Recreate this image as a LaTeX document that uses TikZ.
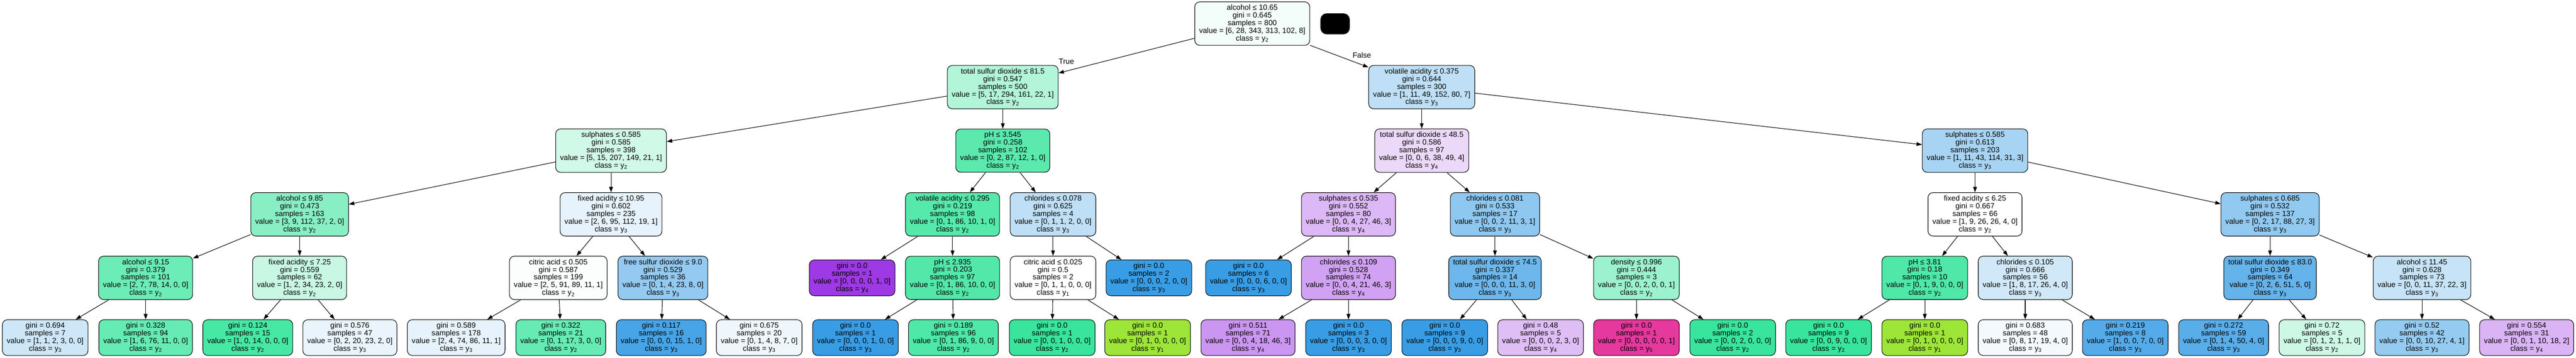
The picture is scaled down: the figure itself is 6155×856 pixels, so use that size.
\documentclass[tikz,border=0pt]{standalone}
\usepackage{fontspec}
\setmainfont{Liberation Sans}
\usepackage{tikz}
\usetikzlibrary{arrows.meta}

\definecolor{cy1}{RGB}{157,229,57}
\definecolor{cy2}{RGB}{57,229,157}
\definecolor{cy3}{RGB}{57,157,229}
\definecolor{cy4}{RGB}{157,57,229}
\definecolor{cy5}{RGB}{229,57,157}
\newcommand{\cy}[1]{class = y\textsubscript{#1}}

\begin{document}
\begin{tikzpicture}[x=1pt,y=-1pt,
	box/.style={shape=rectangle,draw=black,line width=1.3pt,rounded corners=12pt,align=center,
		font=\fontsize{18pt}{18.3pt}\selectfont,inner xsep=10.5pt,inner ysep=7pt},
	lbl/.style={font=\fontsize{18pt}{18.3pt}\selectfont,inner sep=0pt},
	>={Triangle[length=13pt,width=9pt]},
	every edge/.style={draw,line width=1.3pt}]
			\useasboundingbox (0,0) rectangle (6155,856);
			
			\node[box,fill=cy2!6!white] (0) at (2992,56.5) {alcohol ≤ 10.65\\gini = 0.645\\samples = 800\\value = [6, 28, 343, 313, 102, 8]\\\cy{2}};
			\node[fill=black,rounded corners=15pt,minimum width=70pt,minimum height=50pt,inner sep=0pt] (blot) at (3190,57) {};
			
			\node[box,fill=cy2!39!white] (1) at (2396,208.5) {total sulfur dioxide ≤ 81.5\\gini = 0.547\\samples = 500\\value = [5, 17, 294, 161, 22, 1]\\\cy{2}};
			\node[box,fill=cy3!33!white] (28) at (3397,208.5) {volatile acidity ≤ 0.375\\gini = 0.644\\samples = 300\\value = [1, 11, 49, 152, 80, 7]\\\cy{3}};
			
			\node[box,fill=cy2!23!white] (2) at (1460,360.5) {sulphates ≤ 0.585\\gini = 0.585\\samples = 398\\value = [5, 15, 207, 149, 21, 1]\\\cy{2}};
			\node[box,fill=cy2!83!white] (17) at (2396,360.5) {pH ≤ 3.545\\gini = 0.258\\samples = 102\\value = [0, 2, 87, 12, 1, 0]\\\cy{2}};
			\node[box,fill=cy4!19!white] (29) at (3397,360.5) {total sulfur dioxide ≤ 48.5\\gini = 0.586\\samples = 97\\value = [0, 0, 6, 38, 49, 4]\\\cy{4}};
			\node[box,fill=cy3!44!white] (42) at (4719,360.5) {sulphates ≤ 0.585\\gini = 0.613\\samples = 203\\value = [1, 11, 43, 114, 31, 3]\\\cy{3}};
			
			\node[box,fill=cy2!60!white] (3) at (716,513) {alcohol ≤ 9.85\\gini = 0.473\\samples = 163\\value = [3, 9, 112, 37, 2, 0]\\\cy{2}};
			\node[box,fill=cy3!12!white] (10) at (1460,513) {fixed acidity ≤ 10.95\\gini = 0.602\\samples = 235\\value = [2, 6, 95, 112, 19, 1]\\\cy{3}};
			\node[box,fill=cy2!86!white] (18) at (2276,513) {volatile acidity ≤ 0.295\\gini = 0.219\\samples = 98\\value = [0, 1, 86, 10, 1, 0]\\\cy{2}};
			\node[box,fill=cy3!33!white] (23) at (2516,513) {chlorides ≤ 0.078\\gini = 0.625\\samples = 4\\value = [0, 1, 1, 2, 0, 0]\\\cy{3}};
			\node[box,fill=cy4!36!white] (30) at (3222,513) {sulphates ≤ 0.535\\gini = 0.552\\samples = 80\\value = [0, 0, 4, 27, 46, 3]\\\cy{4}};
			\node[box,fill=cy3!57!white] (35) at (3572,513) {chlorides ≤ 0.081\\gini = 0.533\\samples = 17\\value = [0, 0, 2, 11, 3, 1]\\\cy{3}};
			\node[box,fill=white] (43) at (4719,513) {fixed acidity ≤ 6.25\\gini = 0.667\\samples = 66\\value = [1, 9, 26, 26, 4, 0]\\\cy{2}};
			\node[box,fill=cy3!55!white] (50) at (5424,513) {sulphates ≤ 0.685\\gini = 0.532\\samples = 137\\value = [0, 2, 17, 88, 27, 3]\\\cy{3}};
			
			\node[box,fill=cy2!74!white] (4) at (348,665) {alcohol ≤ 9.15\\gini = 0.379\\samples = 101\\value = [2, 7, 78, 14, 0, 0]\\\cy{2}};
			\node[box,fill=cy2!28!white] (7) at (716,665) {fixed acidity ≤ 7.25\\gini = 0.559\\samples = 62\\value = [1, 2, 34, 23, 2, 0]\\\cy{2}};
			\node[box,fill=cy2!2!white] (11) at (1334,665) {citric acid ≤ 0.505\\gini = 0.587\\samples = 199\\value = [2, 5, 91, 89, 11, 1]\\\cy{2}};
			\node[box,fill=cy3!54!white] (14) at (1584,665) {free sulfur dioxide ≤ 9.0\\gini = 0.529\\samples = 36\\value = [0, 1, 4, 23, 8, 0]\\\cy{3}};
			\node[box,fill=cy4] (19) at (2036,665) {gini = 0.0\\samples = 1\\value = [0, 0, 0, 0, 1, 0]\\\cy{4}};
			\node[box,fill=cy2!87!white] (20) at (2276,665) {pH ≤ 2.935\\gini = 0.203\\samples = 97\\value = [0, 1, 86, 10, 0, 0]\\\cy{2}};
			\node[box,fill=white] (24) at (2516,665) {citric acid ≤ 0.025\\gini = 0.5\\samples = 2\\value = [0, 1, 1, 0, 0, 0]\\\cy{1}};
			\node[box,fill=cy3] (27) at (2745,665) {gini = 0.0\\samples = 2\\value = [0, 0, 0, 2, 0, 0]\\\cy{3}};
			\node[box,fill=cy3] (31) at (2983,665) {gini = 0.0\\samples = 6\\value = [0, 0, 0, 6, 0, 0]\\\cy{3}};
			\node[box,fill=cy4!47!white] (32) at (3222,665) {chlorides ≤ 0.109\\gini = 0.528\\samples = 74\\value = [0, 0, 4, 21, 46, 3]\\\cy{4}};
			\node[box,fill=cy3!73!white] (36) at (3572,665) {total sulfur dioxide ≤ 74.5\\gini = 0.337\\samples = 14\\value = [0, 0, 0, 11, 3, 0]\\\cy{3}};
			\node[box,fill=cy2!50!white] (39) at (3910,665) {density ≤ 0.996\\gini = 0.444\\samples = 3\\value = [0, 0, 2, 0, 0, 1]\\\cy{2}};
			\node[box,fill=cy2!89!white] (44) at (4599,665) {pH ≤ 3.81\\gini = 0.18\\samples = 10\\value = [0, 1, 9, 0, 0, 0]\\\cy{2}};
			\node[box,fill=cy3!23!white] (47) at (4839,665) {chlorides ≤ 0.105\\gini = 0.666\\samples = 56\\value = [1, 8, 17, 26, 4, 0]\\\cy{3}};
			\node[box,fill=cy3!78!white] (51) at (5424,665) {total sulfur dioxide ≤ 83.0\\gini = 0.349\\samples = 64\\value = [0, 2, 6, 51, 5, 0]\\\cy{3}};
			\node[box,fill=cy3!29!white] (54) at (5787,665) {alcohol ≤ 11.45\\gini = 0.628\\samples = 73\\value = [0, 0, 11, 37, 22, 3]\\\cy{3}};
			
			\node[box,fill=cy3!25!white] (5) at (108,808) {gini = 0.694\\samples = 7\\value = [1, 1, 2, 3, 0, 0]\\\cy{3}};
			\node[box,fill=cy2!78!white] (6) at (348,808) {gini = 0.328\\samples = 94\\value = [1, 6, 76, 11, 0, 0]\\\cy{2}};
			\node[box,fill=cy2!93!white] (8) at (592,808) {gini = 0.124\\samples = 15\\value = [1, 0, 14, 0, 0, 0]\\\cy{2}};
			\node[box,fill=cy3!11!white] (9) at (836,808) {gini = 0.576\\samples = 47\\value = [0, 2, 20, 23, 2, 0]\\\cy{3}};
			\node[box,fill=cy3!12!white] (12) at (1090,808) {gini = 0.589\\samples = 178\\value = [2, 4, 74, 86, 11, 1]\\\cy{3}};
			\node[box,fill=cy2!78!white] (13) at (1340,808) {gini = 0.322\\samples = 21\\value = [0, 1, 17, 3, 0, 0]\\\cy{2}};
			\node[box,fill=cy3!93!white] (15) at (1580,808) {gini = 0.117\\samples = 16\\value = [0, 0, 0, 15, 1, 0]\\\cy{3}};
			\node[box,fill=cy3!8!white] (16) at (1814,808) {gini = 0.675\\samples = 20\\value = [0, 1, 4, 8, 7, 0]\\\cy{3}};
			\node[box,fill=cy3] (21) at (2044,808) {gini = 0.0\\samples = 1\\value = [0, 0, 0, 1, 0, 0]\\\cy{3}};
			\node[box,fill=cy2!89!white] (22) at (2278,808) {gini = 0.189\\samples = 96\\value = [0, 1, 86, 9, 0, 0]\\\cy{2}};
			\node[box,fill=cy2] (25) at (2514,808) {gini = 0.0\\samples = 1\\value = [0, 0, 1, 0, 0, 0]\\\cy{2}};
			\node[box,fill=cy1] (26) at (2742,808) {gini = 0.0\\samples = 1\\value = [0, 1, 0, 0, 0, 0]\\\cy{1}};
			\node[box,fill=cy4!53!white] (33) at (2982,808) {gini = 0.511\\samples = 71\\value = [0, 0, 4, 18, 46, 3]\\\cy{4}};
			\node[box,fill=cy3] (34) at (3222,808) {gini = 0.0\\samples = 3\\value = [0, 0, 0, 3, 0, 0]\\\cy{3}};
			\node[box,fill=cy3] (37) at (3452,808) {gini = 0.0\\samples = 9\\value = [0, 0, 0, 9, 0, 0]\\\cy{3}};
			\node[box,fill=cy4!33!white] (38) at (3681,808) {gini = 0.48\\samples = 5\\value = [0, 0, 0, 2, 3, 0]\\\cy{4}};
			\node[box,fill=cy5] (40) at (3910,808) {gini = 0.0\\samples = 1\\value = [0, 0, 0, 0, 0, 1]\\\cy{5}};
			\node[box,fill=cy2] (41) at (4140,808) {gini = 0.0\\samples = 2\\value = [0, 0, 2, 0, 0, 0]\\\cy{2}};
			\node[box,fill=cy2] (45) at (4369,808) {gini = 0.0\\samples = 9\\value = [0, 0, 9, 0, 0, 0]\\\cy{2}};
			\node[box,fill=cy1] (46) at (4599,808) {gini = 0.0\\samples = 1\\value = [0, 1, 0, 0, 0, 0]\\\cy{1}};
			\node[box,fill=cy3!6!white] (48) at (4839,808) {gini = 0.683\\samples = 48\\value = [0, 8, 17, 19, 4, 0]\\\cy{3}};
			\node[box,fill=cy3!86!white] (49) at (5078,808) {gini = 0.219\\samples = 8\\value = [1, 0, 0, 7, 0, 0]\\\cy{3}};
			\node[box,fill=cy3!84!white] (52) at (5313,808) {gini = 0.272\\samples = 59\\value = [0, 1, 4, 50, 4, 0]\\\cy{3}};
			\node[box,fill=cy2!25!white] (53) at (5548,808) {gini = 0.72\\samples = 5\\value = [0, 1, 2, 1, 1, 0]\\\cy{2}};
			\node[box,fill=cy3!53!white] (55) at (5787,808) {gini = 0.52\\samples = 42\\value = [0, 0, 10, 27, 4, 1]\\\cy{3}};
			\node[box,fill=cy4!38!white] (56) at (6037,808) {gini = 0.554\\samples = 31\\value = [0, 0, 1, 10, 18, 2]\\\cy{4}};
			
			\node[lbl] (true) at (2548,147) {True};
			\node[lbl] (false) at (3254,132) {False};
			
			\path [->] (0) edge (1);
			\path [->] (0) edge (28);
			\path [->] (1) edge (2);
			\path [->] (1) edge (17);
			\path [->] (2) edge (3);
			\path [->] (2) edge (10);
			\path [->] (3) edge (4);
			\path [->] (3) edge (7);
			\path [->] (4) edge (5);
			\path [->] (4) edge (6);
			\path [->] (7) edge (8);
			\path [->] (7) edge (9);
			\path [->] (10) edge (11);
			\path [->] (10) edge (14);
			\path [->] (11) edge (12);
			\path [->] (11) edge (13);
			\path [->] (14) edge (15);
			\path [->] (14) edge (16);
			\path [->] (17) edge (18);
			\path [->] (17) edge (23);
			\path [->] (18) edge (19);
			\path [->] (18) edge (20);
			\path [->] (20) edge (21);
			\path [->] (20) edge (22);
			\path [->] (23) edge (24);
			\path [->] (23) edge (27);
			\path [->] (24) edge (25);
			\path [->] (24) edge (26);
			\path [->] (28) edge (29);
			\path [->] (28) edge (42);
			\path [->] (29) edge (30);
			\path [->] (29) edge (35);
			\path [->] (30) edge (31);
			\path [->] (30) edge (32);
			\path [->] (32) edge (33);
			\path [->] (32) edge (34);
			\path [->] (35) edge (36);
			\path [->] (35) edge (39);
			\path [->] (36) edge (37);
			\path [->] (36) edge (38);
			\path [->] (39) edge (40);
			\path [->] (39) edge (41);
			\path [->] (42) edge (43);
			\path [->] (42) edge (50);
			\path [->] (43) edge (44);
			\path [->] (43) edge (47);
			\path [->] (44) edge (45);
			\path [->] (44) edge (46);
			\path [->] (47) edge (48);
			\path [->] (47) edge (49);
			\path [->] (50) edge (51);
			\path [->] (50) edge (54);
			\path [->] (51) edge (52);
			\path [->] (51) edge (53);
			\path [->] (54) edge (55);
			\path [->] (54) edge (56);
		\end{tikzpicture}
\end{document}
